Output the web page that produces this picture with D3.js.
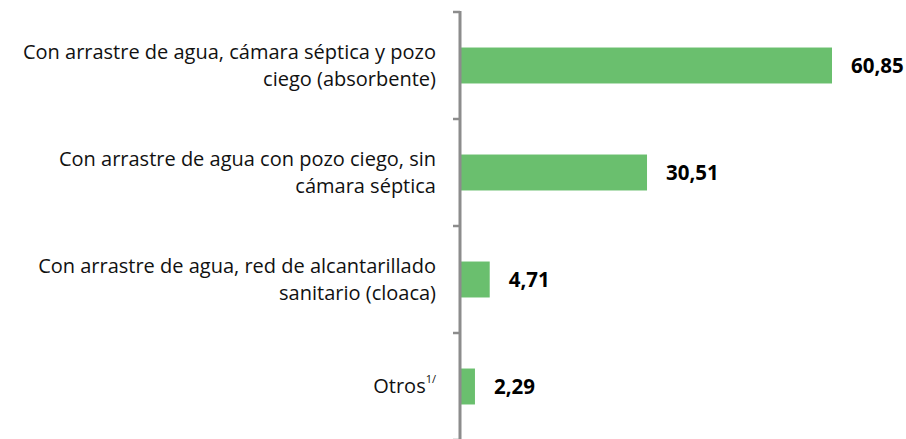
<!DOCTYPE html>
<html>
<head>
<meta charset="utf-8">
<script src="https://cdn.jsdelivr.net/npm/d3@7"></script>
<style>
  body { margin: 0; background: #fff; }
  text { font-family: "Open Sans", sans-serif; }
</style>
</head>
<body>
<div id="chart"></div>
<script>
// data
const categories = [
  ["Con arrastre de agua, cámara séptica y pozo", "ciego (absorbente)"],
  ["Con arrastre de agua con pozo ciego, sin", "cámara séptica"],
  ["Con arrastre de agua, red de alcantarillado", "sanitario (cloaca)"],
  ["Otros"]
];
const values = [60.85, 30.51, 4.71, 2.29];
const valueLabels = ["60,85", "30,51", "4,71", "2,29"];

const width = 906, height = 439;
const axisX = 461;

const svg = d3.select("#chart")
  .append("svg")
  .attr("width", width)
  .attr("height", height);

const y = d3.scaleBand()
  .domain(d3.range(categories.length))
  .range([12, 440])
  .paddingInner(0.664)
  .paddingOuter(0.332);

const x = d3.scaleLinear()
  .domain([0, 60.85])
  .range([axisX, 832]);

// bars
svg.selectAll("rect.bar")
  .data(values)
  .join("rect")
  .attr("class", "bar")
  .attr("x", x(0))
  .attr("y", (d, i) => y(i))
  .attr("width", d => x(d) - x(0))
  .attr("height", y.bandwidth())
  .attr("fill", "#6abf6e");

// axis line + ticks at band boundaries
const axis = svg.append("g").attr("stroke", "#8c8c8c").attr("stroke-width", 3);
axis.append("line")
  .attr("x1", axisX - 1).attr("x2", axisX - 1)
  .attr("y1", y.range()[0] - 1).attr("y2", height);
d3.range(categories.length + 1).forEach(i => {
  const yy = y.range()[0] + i * y.step();
  axis.append("line")
    .attr("x1", axisX - 8).attr("x2", axisX - 1)
    .attr("y1", yy).attr("y2", yy)
    .attr("stroke-width", 2.5);
});

// category labels
const lineH = 27;
categories.forEach((lines, i) => {
  const cy = y(i) + y.bandwidth() / 2;
  const t = svg.append("text")
    .attr("text-anchor", "end")
    .attr("font-size", 20)
    .attr("fill", "#111");
  lines.forEach((l, j) => {
    t.append("tspan")
      .attr("x", 436)
      .attr("y", cy + (j - (lines.length - 1) / 2) * lineH + 6.5)
      .text(l);
  });
  if (i === categories.length - 1) {
    t.append("tspan")
      .attr("font-size", 11)
      .attr("dy", -10)
      .text("1/");
  }
});

// value labels
svg.selectAll("text.val")
  .data(values)
  .join("text")
  .attr("class", "val")
  .attr("x", d => x(d) + 19)
  .attr("y", (d, i) => y(i) + y.bandwidth() / 2 + 7)
  .attr("font-size", 20.5)
  .attr("font-weight", "bold")
  .attr("fill", "#000")
  .text((d, i) => valueLabels[i]);
</script>
</body>
</html>
